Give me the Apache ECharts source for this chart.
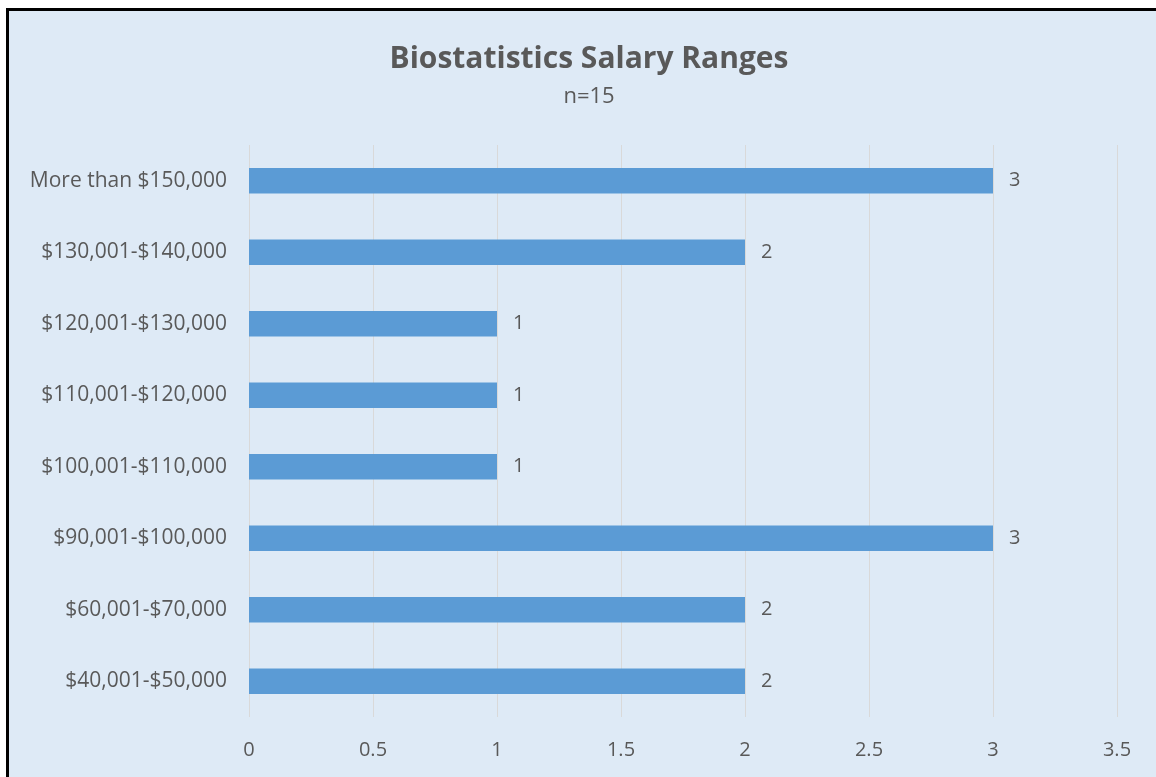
<!DOCTYPE html>
<html>
<head>
<meta charset="utf-8">
<title>Biostatistics Salary Ranges</title>
<script src="https://cdn.jsdelivr.net/npm/echarts@6/dist/echarts.min.js"></script>
<style>
  html, body {
    margin: 0;
    padding: 0;
    width: 1156px;
    height: 777px;
    overflow: hidden;
    background: #ffffff;
  }
  .frame {
    position: absolute;
    left: 6px;
    top: 8px;
    right: 0;
    bottom: 0;
    border-top: 3px solid #000;
    border-left: 3px solid #000;
    background: #deeaf6;
  }
  #chart {
    width: 100%;
    height: 100%;
  }
</style>
</head>
<body>
<div class="frame"><div id="chart"></div></div>
<script>
// salary ranges, bottom to top as drawn
const categories = [
  '$40,001-$50,000',
  '$60,001-$70,000',
  '$90,001-$100,000',
  '$100,001-$110,000',
  '$110,001-$120,000',
  '$120,001-$130,000',
  '$130,001-$140,000',
  'More than $150,000',
]
const counts = [2, 2, 3, 1, 1, 1, 2, 3]
const valueTicks = [0, 0.5, 1, 1.5, 2, 2.5, 3, 3.5]

const textColor = '#595959'
const font = 'Open Sans'

const chart = echarts.init(document.getElementById('chart'))

chart.setOption({
  backgroundColor: 'transparent',
  animation: false,
  title: {
    text: 'Biostatistics Salary Ranges',
    subtext: 'n=15',
    left: 575,
    textAlign: 'center',
    top: 28,
    itemGap: 12,
    textStyle: {
      color: textColor,
      fontFamily: font,
      fontWeight: 'bold',
      fontSize: 30,
    },
    subtextStyle: {
      color: textColor,
      fontFamily: font,
      fontSize: 22,
    },
  },
  grid: {
    left: 240,
    right: 39,
    top: 134,
    bottom: 60,
    containLabel: false,
  },
  xAxis: {
    type: 'value',
    min: valueTicks[0],
    max: valueTicks[valueTicks.length - 1],
    interval: 0.5,
    axisLine: { show: false },
    axisTick: { show: false },
    axisLabel: {
      color: textColor,
      fontFamily: font,
      fontSize: 20,
      margin: 23,
    },
    splitLine: {
      lineStyle: { color: '#d9d9d9', width: 1 },
    },
  },
  yAxis: {
    type: 'category',
    data: categories,
    axisLine: { show: false },
    axisTick: { show: false },
    axisLabel: {
      color: textColor,
      fontFamily: font,
      fontSize: 21,
      margin: 22,
      padding: [4, 0, 0, 0],
    },
  },
  series: [
    {
      type: 'bar',
      data: counts,
      barWidth: '36%',
      itemStyle: { color: '#5b9bd5' },
      label: {
        show: true,
        position: 'right',
        distance: 16,
        color: textColor,
        fontFamily: font,
        fontSize: 20,
        padding: [5, 0, 0, 0],
      },
    },
  ],
})
</script>
</body>
</html>
